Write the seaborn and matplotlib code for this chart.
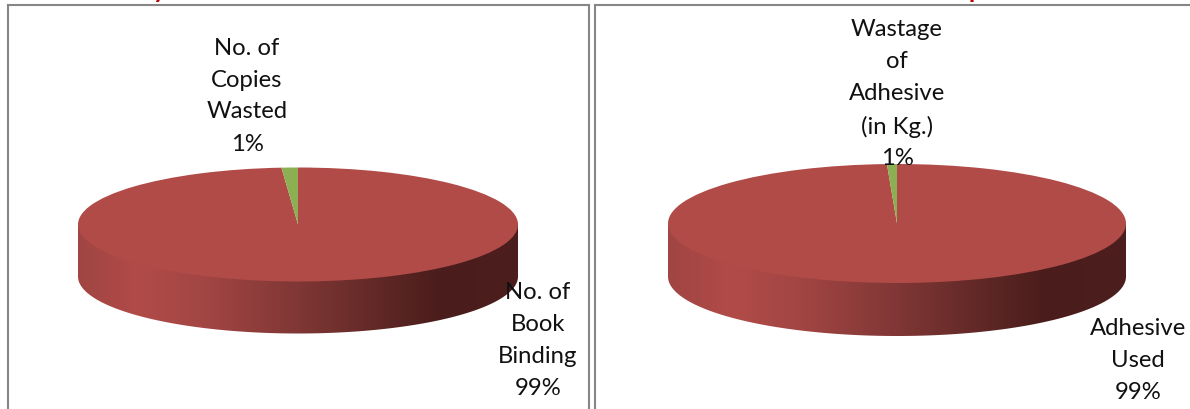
import numpy as np
import matplotlib
matplotlib.use("Agg")
import matplotlib.pyplot as plt
from matplotlib.patches import PathPatch
from matplotlib.path import Path
import seaborn as sns

# ---- data ----
left_names = ["No. of\nBook\nBinding", "No. of\nCopies\nWasted"]
left_values = [98.8, 1.2]
right_names = ["Adhesive\nUsed", "Wastage\nof\nAdhesive\n(in Kg.)"]
right_values = [99.3, 0.7]

# ---- styling ----
W, H = 1190, 410
TOP_COLOR = "#B14B47"
WASTE_COLOR = "#8DAF53"
EDGE_COLOR = "#868686"
TITLE_RED = "#C00000"
shade_pos = [0.0, 0.14, 0.28, 0.50, 0.70, 0.82, 1.0]
shade_rgb = ["#A04543", "#B14B48", "#A34644", "#803735", "#5E2725", "#4A1D1C", "#4C1E1D"]

sns.set_theme(style="white")
plt.rcParams["font.family"] = ["Lato", "DejaVu Sans"]
fig = plt.figure(figsize=(W / 100, H / 100), dpi=100, facecolor="white")


def put_label(x, y_lines, text):
    for y, line in zip(y_lines, text.split("\n")):
        fig.text(x / W, 1 - (y + 1.5) / H, line, ha="center", va="center",
                 fontsize=17.2, color="#111111", zorder=5)


def pie3d(panel, cx, cy, rx, ry, depth, values):
    x0, x1, y0, y1 = panel
    ax = fig.add_axes([x0 / W, 1 - y1 / H, (x1 - x0) / W, (y1 - y0) / H])
    d = depth / ry
    # side wall: gradient clipped to the lower half ring
    t = np.linspace(np.pi, 2 * np.pi, 300)
    verts = np.vstack([[-1, 0], np.c_[np.cos(t), np.sin(t) - d], [1, 0], [-1, 0]])
    codes = [Path.MOVETO] + [Path.LINETO] * (len(verts) - 2) + [Path.CLOSEPOLY]
    clip = PathPatch(Path(verts, codes), transform=ax.transData, fc="none", ec="none")
    ax.add_patch(clip)
    stops = np.array([matplotlib.colors.to_rgb(c) for c in shade_rgb])
    xs = np.linspace(0, 1, 440)
    band = np.stack([np.interp(xs, shade_pos, stops[:, i]) for i in range(3)], axis=-1)[None, :, :]
    im = ax.imshow(band, extent=(-1, 1, -1 - d, 0), aspect="auto", interpolation="bilinear", zorder=1)
    im.set_clip_path(clip)
    # top face
    wedges, _ = ax.pie(values, colors=[TOP_COLOR, WASTE_COLOR], startangle=90,
                       counterclock=False, radius=1, frame=True,
                       wedgeprops=dict(linewidth=0, zorder=2))
    for w in wedges:
        w.set_zorder(2)
    ax.set_aspect("auto")
    ax.set_xlim((x0 - cx) / rx, (x1 - cx) / rx)
    ax.set_ylim((cy - y1) / ry, (cy - y0) / ry)
    ax.set_xticks([]); ax.set_yticks([])
    for s in ax.spines.values():
        s.set_color(EDGE_COLOR)
        s.set_linewidth(1.5)
    return ax


pie3d((7.5, 588.5, 5.5, 420), 298, 225.5, 220, 57, 52, left_values)
pie3d((595, 1200, 5.5, 420), 897, 224.5, 229, 59.5, 53, right_values)

put_label(247, [47, 79, 110, 143], f"{left_names[1]}\n{left_values[1]:.0f}%")
put_label(538, [291, 323, 355, 387], f"{left_names[0]}\n{left_values[0]:.0f}%")
put_label(897, [28, 60, 92, 125, 157], f"{right_names[1]}\n{right_values[1]:.0f}%")
put_label(1138, [327, 359, 391], f"{right_names[0]}\n{right_values[0]:.0f}%")

# cropped title descenders at the very top of the picture
fig.text(160 / W, 1 + 2 / H, "y", color=TITLE_RED, fontsize=18, fontweight="bold", ha="center", va="baseline")
fig.text(976 / W, 1 + 2 / H, "p", color=TITLE_RED, fontsize=18, fontweight="bold", ha="center", va="baseline")

fig.savefig("out.png", dpi=100)
